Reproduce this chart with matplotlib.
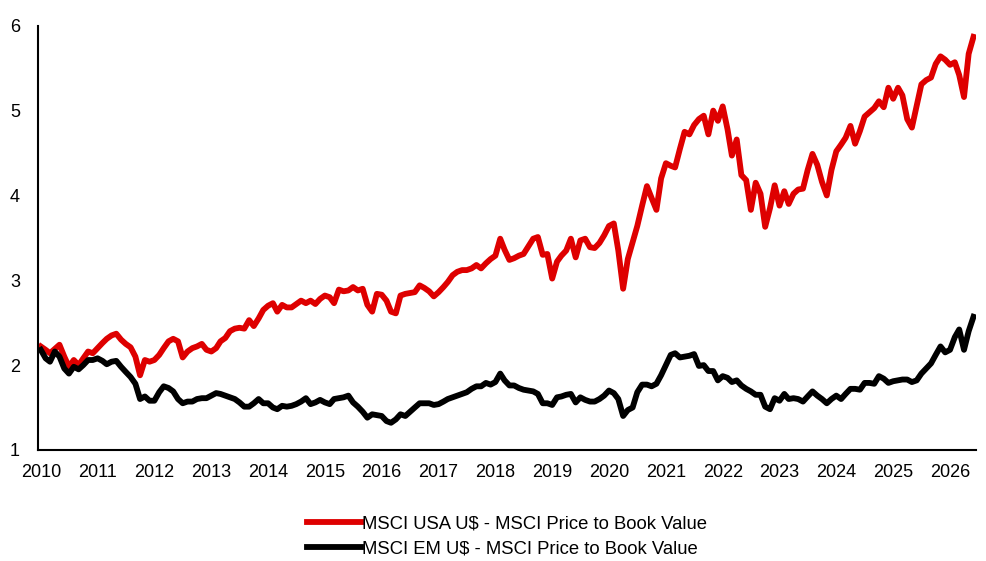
import numpy as np
import pandas as pd
import matplotlib
matplotlib.use('Agg')
import matplotlib.pyplot as plt
import matplotlib.dates as mdates

# Monthly price-to-book readings, Jan 2010 - Jun 2026
usa_pb = [
    2.22, 2.18, 2.14, 2.19, 2.24, 2.10, 1.98, 2.06, 2.00, 2.08, 2.16, 2.14,
    2.20, 2.26, 2.31, 2.35, 2.37, 2.30, 2.25, 2.21, 2.10, 1.88, 2.06, 2.04,
    2.06, 2.12, 2.20, 2.28, 2.31, 2.28, 2.09, 2.16, 2.20, 2.22, 2.25, 2.18,
    2.16, 2.20, 2.28, 2.32, 2.40, 2.43, 2.44, 2.43, 2.53, 2.46, 2.55, 2.65,
    2.70, 2.73, 2.63, 2.71, 2.68, 2.68, 2.72, 2.76, 2.73, 2.76, 2.72, 2.78,
    2.82, 2.80, 2.73, 2.89, 2.87, 2.88, 2.92, 2.88, 2.90, 2.71, 2.63, 2.84,
    2.83, 2.76, 2.63, 2.61, 2.82, 2.84, 2.85, 2.86, 2.94, 2.91, 2.87, 2.81,
    2.86, 2.92, 2.98, 3.06, 3.10, 3.12, 3.12, 3.14, 3.18, 3.14, 3.20, 3.25,
    3.29, 3.49, 3.36, 3.24, 3.26, 3.29, 3.31, 3.40, 3.49, 3.51, 3.30, 3.31,
    3.02, 3.22, 3.29, 3.35, 3.49, 3.27, 3.47, 3.49, 3.39, 3.38, 3.44, 3.53,
    3.64, 3.67, 3.35, 2.90, 3.25, 3.45, 3.64, 3.88, 4.11, 3.97, 3.83, 4.20,
    4.38, 4.35, 4.33, 4.55, 4.75, 4.72, 4.83, 4.90, 4.94, 4.72, 5.00, 4.88,
    5.05, 4.78, 4.47, 4.66, 4.24, 4.18, 3.83, 4.15, 4.02, 3.63, 3.85, 4.12,
    3.88, 4.05, 3.90, 4.02, 4.07, 4.08, 4.30, 4.49, 4.36, 4.16, 4.00, 4.30,
    4.52, 4.60, 4.68, 4.82, 4.61, 4.76, 4.93, 4.98, 5.03, 5.11, 5.04, 5.27,
    5.14, 5.27, 5.18, 4.90, 4.80, 5.06, 5.31, 5.36, 5.39, 5.55, 5.64, 5.60,
    5.54, 5.57, 5.42, 5.16, 5.67, 5.87,
]

em_pb = [
    2.18, 2.08, 2.04, 2.16, 2.10, 1.96, 1.90, 1.98, 1.95, 2.00, 2.06, 2.06,
    2.08, 2.05, 2.01, 2.04, 2.05, 1.98, 1.92, 1.86, 1.78, 1.60, 1.63, 1.58,
    1.58, 1.68, 1.75, 1.73, 1.69, 1.60, 1.55, 1.57, 1.57, 1.60, 1.61, 1.61,
    1.64, 1.67, 1.66, 1.64, 1.62, 1.60, 1.56, 1.51, 1.51, 1.55, 1.60, 1.55,
    1.55, 1.50, 1.48, 1.52, 1.51, 1.52, 1.54, 1.57, 1.61, 1.54, 1.56, 1.59,
    1.56, 1.54, 1.60, 1.61, 1.62, 1.64, 1.56, 1.51, 1.45, 1.38, 1.42, 1.41,
    1.40, 1.34, 1.32, 1.36, 1.42, 1.40, 1.45, 1.50, 1.55, 1.55, 1.55, 1.53,
    1.54, 1.57, 1.60, 1.62, 1.64, 1.66, 1.68, 1.72, 1.75, 1.75, 1.79, 1.77,
    1.80, 1.90, 1.82, 1.76, 1.76, 1.73, 1.71, 1.70, 1.69, 1.66, 1.55, 1.55,
    1.53, 1.62, 1.63, 1.65, 1.66, 1.56, 1.62, 1.59, 1.57, 1.57, 1.60, 1.64,
    1.70, 1.67, 1.60, 1.40, 1.47, 1.50, 1.68, 1.77, 1.77, 1.75, 1.78, 1.88,
    2.00, 2.12, 2.14, 2.09, 2.10, 2.11, 2.13, 1.99, 2.00, 1.93, 1.93, 1.82,
    1.87, 1.85, 1.80, 1.82, 1.76, 1.72, 1.69, 1.65, 1.65, 1.51, 1.48, 1.61,
    1.58, 1.66, 1.60, 1.61, 1.60, 1.57, 1.63, 1.69, 1.64, 1.60, 1.55, 1.60,
    1.64, 1.60, 1.66, 1.72, 1.72, 1.71, 1.79, 1.79, 1.78, 1.87, 1.84, 1.79,
    1.81, 1.82, 1.83, 1.83, 1.80, 1.82, 1.90, 1.96, 2.02, 2.12, 2.22, 2.15,
    2.18, 2.33, 2.42, 2.18, 2.40, 2.57,
]

dates = pd.date_range('2010-01-01', periods=len(usa_pb), freq='MS')
years = list(range(2010, 2027))
y_ticks = [1, 2, 3, 4, 5, 6]

plt.rcParams['font.family'] = ['Liberation Sans', 'DejaVu Sans']

fig = plt.figure(figsize=(9.87, 5.61), dpi=100)
ax = fig.add_axes([0.0385, 0.198, 0.9505, 0.756])

ax.plot(dates, usa_pb, color='#DE0000', linewidth=4.2,
        label='MSCI USA U$ - MSCI Price to Book Value')
ax.plot(dates, em_pb, color='black', linewidth=4.2,
        label='MSCI EM U$ - MSCI Price to Book Value')

ax.set_ylim(1, 6)
ax.set_yticks(y_ticks)
ax.set_xlim(pd.Timestamp('2009-12-14'), pd.Timestamp('2026-06-18'))
ax.set_xticks([pd.Timestamp(f'{y}-01-01') for y in years])
ax.xaxis.set_major_formatter(mdates.DateFormatter('%Y'))

for side in ['top', 'right']:
    ax.spines[side].set_visible(False)
for side in ['left', 'bottom']:
    ax.spines[side].set_linewidth(1.5)
ax.tick_params(axis='both', length=0, labelsize=13)
ax.tick_params(axis='x', pad=10)
ax.tick_params(axis='y', pad=13)

ax.legend(loc='upper center', bbox_to_anchor=(0.5, -0.115), frameon=False,
          fontsize=13.3, handlelength=2.9, handletextpad=0.05, labelspacing=0.45)

plt.savefig('out.png', dpi=100)
